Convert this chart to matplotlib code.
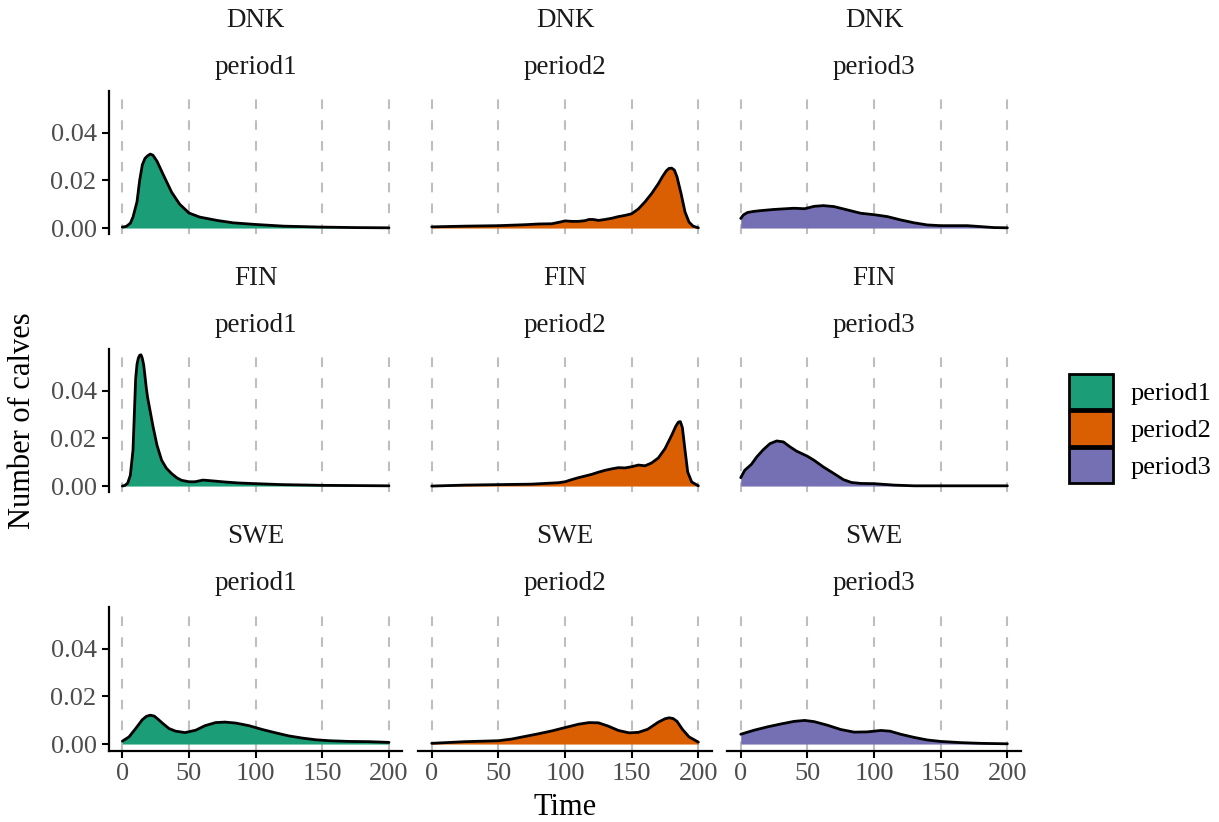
import matplotlib
matplotlib.use("Agg")
import matplotlib.pyplot as plt
from matplotlib.patches import Patch

plt.rcParams["font.family"] = ["Liberation Serif", "DejaVu Serif"]

countries = ["DNK", "FIN", "SWE"]
periods = ["period1", "period2", "period3"]
colors = ["#1B9E77", "#D95F02", "#7570B3"]
x_ticks = [0, 50, 100, 150, 200]
y_ticks = [0.00, 0.02, 0.04]
y_tick_labels = ["0.00", "0.02", "0.04"]

# density of calvings over time, one curve per country / period
dnk_p1_t = [0, 3, 6, 8, 11, 13, 15, 17, 19, 21, 23, 26, 31, 37, 43, 50, 58, 71, 83, 100, 121, 150, 175, 200]
dnk_p1_y = [0.0004, 0.0007, 0.0020, 0.0046, 0.0110, 0.0200, 0.0265, 0.0292, 0.0303, 0.0310, 0.0305,
            0.0280, 0.0220, 0.0150, 0.0100, 0.0063, 0.0046, 0.0032, 0.0022, 0.0015, 0.0008, 0.0004,
            0.0002, 0.0001]

dnk_p2_t = [0, 25, 50, 70, 80, 90, 97, 100, 105, 110, 115, 118, 121, 125, 130, 135, 140, 145, 150,
            155, 160, 165, 170, 173, 176, 178, 180, 182, 184, 187, 190, 193, 196, 200]
dnk_p2_y = [0.0005, 0.0008, 0.0010, 0.0014, 0.0017, 0.0018, 0.0026, 0.0030, 0.0028, 0.0028, 0.0031,
            0.0036, 0.0036, 0.0032, 0.0036, 0.0041, 0.0048, 0.0053, 0.0060, 0.0080, 0.0110, 0.0145,
            0.0186, 0.0215, 0.0240, 0.0250, 0.0251, 0.0243, 0.0214, 0.0145, 0.0067, 0.0025, 0.0008,
            0.0001]

dnk_p3_t = [0, 2, 5, 10, 15, 25, 40, 48, 55, 62, 70, 80, 90, 100, 110, 120, 130, 140, 150, 160, 170,
            180, 190, 200]
dnk_p3_y = [0.0040, 0.0055, 0.0065, 0.0070, 0.0073, 0.0078, 0.0083, 0.0081, 0.0091, 0.0094, 0.0090,
            0.0076, 0.0062, 0.0056, 0.0048, 0.0034, 0.0022, 0.0013, 0.0010, 0.0010, 0.0010, 0.0006,
            0.0002, 0.0001]

fin_p1_t = [0, 2, 4, 6, 8, 9, 10, 11, 12, 13, 14, 15, 16, 17, 18, 19, 21, 23, 26, 29.5, 33, 37, 41,
            44.5, 50, 54.5, 60.5, 67, 77, 87, 100, 120, 150, 175, 200]
fin_p1_y = [0.0000, 0.0003, 0.0012, 0.0045, 0.0150, 0.0300, 0.0450, 0.0510, 0.0536, 0.0548, 0.0550,
            0.0535, 0.0508, 0.0460, 0.0410, 0.0370, 0.0310, 0.0250, 0.0171, 0.0108, 0.0075, 0.0052,
            0.0034, 0.0024, 0.0018, 0.0018, 0.0025, 0.0022, 0.0017, 0.0013, 0.0010, 0.0006, 0.0003,
            0.0002, 0.0001]

fin_p2_t = [0, 25, 50, 75, 95, 100, 105, 110, 115, 120, 125, 130, 135, 140, 145, 150, 155, 160, 165,
            170, 175, 180, 183, 185, 186.5, 188, 190, 192, 195, 200]
fin_p2_y = [0.0000, 0.0004, 0.0006, 0.0008, 0.0014, 0.0018, 0.0027, 0.0035, 0.0042, 0.0049, 0.0058,
            0.0066, 0.0072, 0.0077, 0.0076, 0.0081, 0.0088, 0.0085, 0.0097, 0.0118, 0.0157, 0.0213,
            0.0250, 0.0268, 0.0270, 0.0245, 0.0150, 0.0059, 0.0017, 0.0001]

fin_p3_t = [0, 3, 8, 12, 17, 22, 27, 32, 37, 42, 50, 55, 62, 70, 77, 83, 90, 100, 115, 130, 150, 175, 200]
fin_p3_y = [0.0035, 0.0066, 0.0091, 0.0122, 0.0153, 0.0178, 0.0189, 0.0185, 0.0164, 0.0146, 0.0125,
            0.0108, 0.0080, 0.0052, 0.0027, 0.0015, 0.0011, 0.0010, 0.0004, 0.0001, 0.0001, 0.0001,
            0.0001]

swe_p1_t = [0, 5, 10, 15, 18, 21, 24, 27, 30, 35, 40, 47, 55, 62, 70, 77, 85, 95, 105, 115, 125, 135,
            145, 155, 170, 185, 200]
swe_p1_y = [0.0012, 0.0030, 0.0065, 0.0102, 0.0116, 0.0121, 0.0117, 0.0103, 0.0088, 0.0065, 0.0054,
            0.0048, 0.0058, 0.0077, 0.0090, 0.0092, 0.0088, 0.0077, 0.0061, 0.0047, 0.0034, 0.0025,
            0.0018, 0.0014, 0.0011, 0.0010, 0.0007]

swe_p2_t = [0, 25, 50, 60, 70, 80, 90, 100, 110, 118, 125, 132, 140, 148, 155, 162, 170, 175, 178,
            181, 184, 188, 193, 200]
swe_p2_y = [0.0003, 0.0010, 0.0014, 0.0021, 0.0032, 0.0043, 0.0055, 0.0069, 0.0083, 0.0090, 0.0089,
            0.0076, 0.0057, 0.0047, 0.0049, 0.0062, 0.0092, 0.0106, 0.0110, 0.0107, 0.0095, 0.0062,
            0.0030, 0.0008]

swe_p3_t = [0, 10, 20, 30, 40, 48, 55, 65, 75, 85, 95, 105, 112, 120, 130, 140, 150, 165, 180, 200]
swe_p3_y = [0.0041, 0.0058, 0.0072, 0.0084, 0.0095, 0.0099, 0.0094, 0.0079, 0.0061, 0.0050, 0.0051,
            0.0057, 0.0054, 0.0041, 0.0028, 0.0017, 0.0011, 0.0006, 0.0003, 0.0001]

curves = {
    ("DNK", "period1"): (dnk_p1_t, dnk_p1_y),
    ("DNK", "period2"): (dnk_p2_t, dnk_p2_y),
    ("DNK", "period3"): (dnk_p3_t, dnk_p3_y),
    ("FIN", "period1"): (fin_p1_t, fin_p1_y),
    ("FIN", "period2"): (fin_p2_t, fin_p2_y),
    ("FIN", "period3"): (fin_p3_t, fin_p3_y),
    ("SWE", "period1"): (swe_p1_t, swe_p1_y),
    ("SWE", "period2"): (swe_p2_t, swe_p2_y),
    ("SWE", "period3"): (swe_p3_t, swe_p3_y),
}

W, H = 1219, 822
fig = plt.figure(figsize=(W / 100, H / 100), dpi=100)

# panel geometry in pixels
col_left = [109.0, 418.4, 727.4]
panel_w = 293.3
row_top = [91.3, 349.3, 607.3]
panel_h = 143.2

for r, country in enumerate(countries):
    for c, period in enumerate(periods):
        ax = fig.add_axes([col_left[c] / W, 1 - (row_top[r] + panel_h) / H,
                           panel_w / W, panel_h / H])
        t, y = curves[(country, period)]
        ax.fill_between(t, 0, y, color=colors[c], lw=0, zorder=2)
        ax.plot(t, y, color="black", lw=2.0, zorder=3, solid_capstyle="round",
                solid_joinstyle="round")

        ax.set_xlim(-10, 210)
        ax.set_ylim(-0.0027, 0.0573)
        ax.set_xticks(x_ticks)
        ax.set_yticks(y_ticks)
        ax.set_yticklabels(y_tick_labels)
        ax.xaxis.grid(True, color="#BEBEBE", lw=1.5, linestyle=(0, (4.6, 5.4)), zorder=0)
        ax.set_axisbelow(True)

        for side in ["top", "right", "left", "bottom"]:
            ax.spines[side].set_visible(False)
        ax.tick_params(axis="both", colors="black", labelcolor="#4D4D4D", labelsize=19,
                       length=5, width=1.5, pad=4)

        if c == 0:
            ax.spines["left"].set_visible(True)
            ax.spines["left"].set_linewidth(1.6)
        else:
            ax.tick_params(axis="y", length=0, labelleft=False)

        if r == 2:
            ax.spines["bottom"].set_visible(True)
            ax.spines["bottom"].set_linewidth(1.6)
            ax.set_xticklabels([str(v) for v in x_ticks])
        else:
            ax.tick_params(axis="x", length=0, labelbottom=False)

        # two-line facet strip
        ax.annotate(country, xy=(0.5, 1), xycoords="axes fraction", xytext=(0, 46.5),
                    textcoords="offset points", ha="center", va="baseline",
                    fontsize=19.5, color="#1A1A1A")
        ax.annotate(period, xy=(0.5, 1), xycoords="axes fraction", xytext=(0, 12.5),
                    textcoords="offset points", ha="center", va="baseline",
                    fontsize=19.5, color="#1A1A1A")

fig.text(564.8 / W, 1 - 815 / H, "Time", ha="center", va="baseline", fontsize=22)
fig.text(23 / W, 1 - 420.5 / H, "Number of calves", ha="center", va="center",
         rotation=90, fontsize=22)

handles = [Patch(facecolor=col, edgecolor="black", linewidth=2, label=p)
           for p, col in zip(periods, colors)]
fig.legend(handles=handles, loc="center left", bbox_to_anchor=(1069 / W, 1 - 428.5 / H),
           frameon=False, fontsize=19, handlelength=1.67, handleheight=1.67,
           labelspacing=0.08, handletextpad=0.68, borderpad=0, borderaxespad=0)

fig.savefig("out.png", dpi=100)
